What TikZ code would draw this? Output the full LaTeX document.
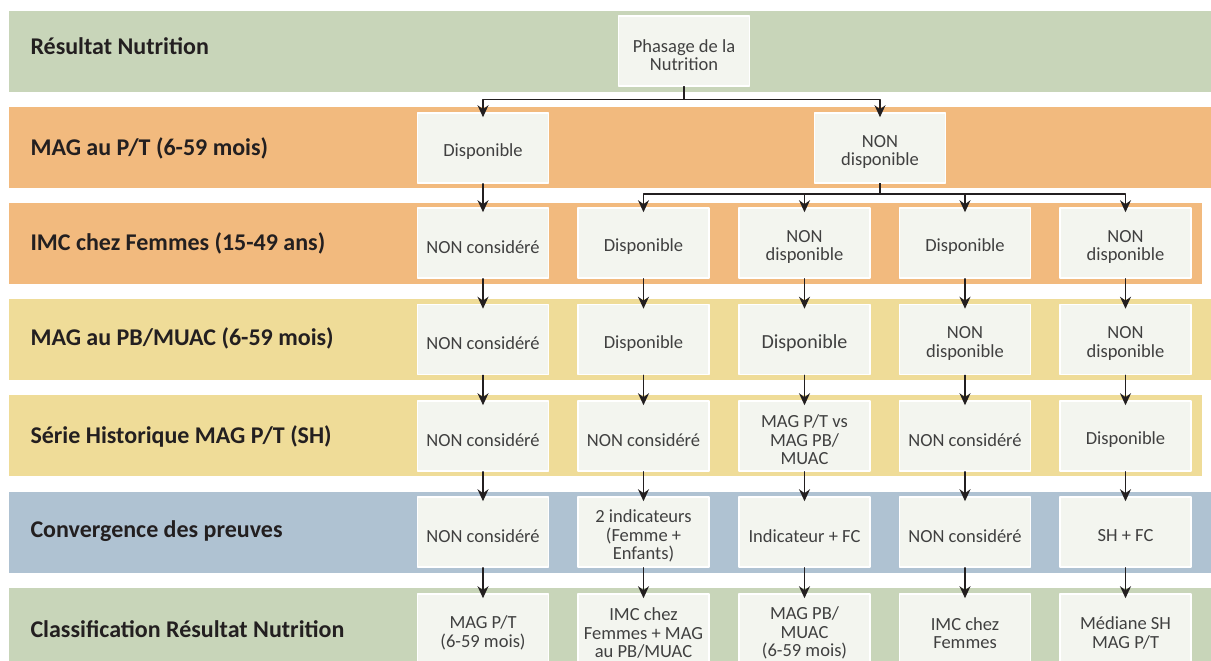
\documentclass[tikz,border=0pt]{standalone}
\usepackage{fontspec}
\setmainfont{Carlito}
\usetikzlibrary{arrows.meta}

\begin{document}
\begin{tikzpicture}[x=1pt, y=-1pt, line cap=round, line join=round,
  boxtext/.style={yshift=-4pt, inner sep=0pt, align=center, text=boxtextcol,
    font=\fontsize{18.5}{18.5}\selectfont},
  box/.style={draw=white, line width=1.6pt, fill=boxfill, minimum width=131pt,
    minimum height=70pt, inner sep=0pt, label={[boxtext]center:#1}},
  bandlabel/.style={anchor=west, text=ink, font=\bfseries\fontsize{24}{28}\selectfont},
  flow/.style={draw=ink, line width=1.4pt, shorten >=-5pt,
    -{Stealth[length=12pt,width=11pt,inset=4pt]}}]
  \definecolor{bandgreen}{RGB}{200,213,185}
  \definecolor{bandorange}{RGB}{242,186,126}
  \definecolor{bandyellow}{RGB}{239,220,152}
  \definecolor{bandblue}{RGB}{175,194,210}
  \definecolor{boxfill}{RGB}{243,245,239}
  \definecolor{boxtextcol}{RGB}{64,64,64}
  \definecolor{ink}{RGB}{35,31,32}
  \useasboundingbox (0,0) rectangle (1211,661);
  \clip (0,0) rectangle (1211,661);
  \foreach \yy/\col/\xx in {11/bandgreen/1211, 107/bandorange/1211,
      203/bandorange/1202, 299/bandyellow/1211, 395/bandyellow/1202,
      492/bandblue/1211, 588/bandgreen/1211}
    \fill[\col] (9,\yy) rectangle (\xx,\yy+81);

  \node[bandlabel] (lres)  at (27,46)  {Résultat Nutrition};
  \node[bandlabel] (lpt)   at (27,148) {MAG au P/T (6-59 mois)};
  \node[bandlabel] (limc)  at (27,243) {IMC chez Femmes (15-49 ans)};
  \node[bandlabel] (lpb)   at (27,338) {MAG au PB/MUAC (6-59 mois)};
  \node[bandlabel] (lsh)   at (27,436) {Série Historique MAG P/T (SH)};
  \node[bandlabel] (lconv) at (27,531) {Convergence des preuves};
  \node[bandlabel] (lclas) at (27,629) {Classification Résultat Nutrition};

  \node[box={Phasage de la\\Nutrition}] (phase) at (684,51) {};
  \node[box={Disponible}] (dispo) at (483,148) {};
  \node[box={NON\\disponible}] (nondispo) at (880,148) {};

  \node[box={NON considéré}] (r3c1) at (483,243) {};
  \node[box={Disponible}] (r3c2) at (643.5,243) {};
  \node[box={NON\\disponible}] (r3c3) at (804.5,243) {};
  \node[box={Disponible}] (r3c4) at (965,243) {};
  \node[box={NON\\disponible}] (r3c5) at (1125.5,243) {};

  \node[box={NON considéré}] (r4c1) at (483,339.5) {};
  \node[box={Disponible}] (r4c2) at (643.5,339.5) {};
  \node[box={\fontsize{20}{22}\selectfont Disponible}] (r4c3) at (804.5,339.5) {};
  \node[box={NON\\disponible}] (r4c4) at (965,339.5) {};
  \node[box={NON\\disponible}] (r4c5) at (1125.5,339.5) {};

  \node[box={NON considéré}] (r5c1) at (483,436) {};
  \node[box={NON considéré}] (r5c2) at (643.5,436) {};
  \node[box={MAG P/T vs\\MAG PB/\\MUAC}] (r5c3) at (804.5,436) {};
  \node[box={NON considéré}] (r5c4) at (965,436) {};
  \node[box={Disponible}] (r5c5) at (1125.5,436) {};

  \node[box={NON considéré}] (r6c1) at (483,532) {};
  \node[box={2 indicateurs\\(Femme +\\Enfants)}] (r6c2) at (643.5,532) {};
  \node[box={Indicateur + FC}] (r6c3) at (804.5,532) {};
  \node[box={NON considéré}] (r6c4) at (965,532) {};
  \node[box={SH + FC}] (r6c5) at (1125.5,532) {};

  \node[box={MAG P/T\\(6-59 mois)}] (r7c1) at (483,629) {};
  \node[box={IMC chez\\Femmes + MAG\\au PB/MUAC}] (r7c2) at (643.5,629) {};
  \node[box={MAG PB/\\MUAC\\(6-59 mois)}] (r7c3) at (804.5,629) {};
  \node[box={IMC chez\\Femmes}] (r7c4) at (965,629) {};
  \node[box={Médiane SH\\MAG P/T}] (r7c5) at (1125.5,629) {};

  \draw[flow] (phase.south) -- ++(0,13) -| (dispo.north);
  \draw[flow] (phase.south) -- ++(0,13) -| (nondispo.north);
  \foreach \c in {2,...,5}
    \draw[flow] (nondispo.south) -- ++(0,10) -| (r3c\c.north);
  \draw[flow] (dispo) -- (r3c1);
  \foreach \c in {1,...,5}
    \foreach \r/\s in {3/4, 4/5, 5/6, 6/7}
      \draw[flow] (r\r c\c) -- (r\s c\c);
\end{tikzpicture}
\end{document}
